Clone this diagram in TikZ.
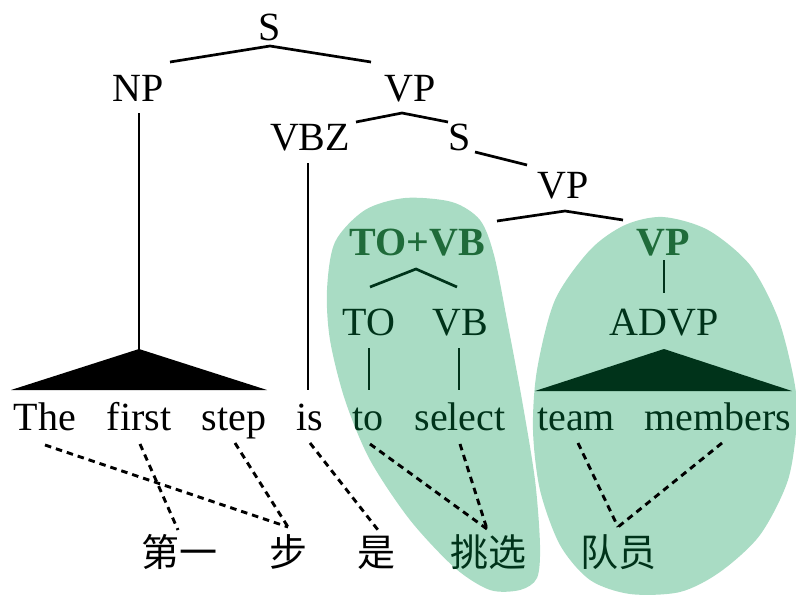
\documentclass[tikz,border=0pt]{standalone}
\usepackage{fontspec}
\setmainfont{Liberation Serif}
\newfontfamily\tnr{Liberation Serif}
\newfontfamily\cjk{Noto Sans CJK SC}
\definecolor{blobfill}{HTML}{A9DCC4}
\definecolor{labgreen}{HTML}{1F6B3A}
\definecolor{dkgreen}{HTML}{00331A}
\begin{document}
\begin{tikzpicture}[x=1pt,y=-1pt,
 lab/.style={anchor=base,inner sep=0pt,font=\tnr\fontsize{40}{48}\selectfont},
 glab/.style={lab,text=labgreen,font=\tnr\bfseries\fontsize{40}{48}\selectfont},
 inlab/.style={lab,text=dkgreen},
 zh/.style={anchor=base,inner sep=0pt,font=\cjk\fontsize{38}{44}\selectfont},
 tree/.style={line width=2.7pt},
 gtree/.style={line width=2.7pt,draw=dkgreen},
 alnline/.style={line width=2.9pt,dash pattern=on 6.5pt off 5pt},
 blob/.style={fill=blobfill,draw=none}]
\useasboundingbox (0,0) rectangle (796,595);
% blobs
\fill[blob] plot[smooth cycle] coordinates {(327,290) (335,242) (365,210) (405,198) (452,202) (480,220) (494,255) (507,320) (522,400) (535,480) (540,545) (537,578) (520,590) (490,590) (455,568) (410,520) (370,460) (345,400) (330,340)};
\fill[blob] plot[smooth cycle] coordinates {(663,217) (708,230) (750,265) (778,318) (794,380) (797,420) (788,480) (760,535) (720,572) (680,592) (630,594) (590,580) (560,545) (540,490) (533,430) (537,370) (555,300) (590,250) (625,225)};
% labels
\node[lab] (S) at (270,40) {S};
\node[lab] (NP) at (138,101) {NP};
\node[lab] (VP) at (410,101) {VP};
\node[lab] (VBZ) at (310,150) {VBZ};
\node[lab] (S2) at (460,150) {S};
\node[lab] (VP2) at (563,198) {VP};
\node[glab] (TOVB) at (417,255) {TO+VB};
\node[glab] (VP3) at (663,255) {VP};
\node[inlab] (TO) at (369,335) {TO};
\node[inlab] (VB) at (460,335) {VB};
\node[inlab] (ADVP) at (664,335) {ADVP};
% words
\node[lab] (w1) at (45,430) {The};
\node[lab] (w2) at (139,430) {first};
\node[lab] (w3) at (234,430) {step};
\node[lab] (w4) at (310,430) {is};
\node[inlab] (w5) at (368,430) {to};
\node[inlab] (w6) at (460,430) {select};
\node[inlab] (w7) at (576,430) {team};
\node[inlab] (w8) at (718,430) {members};
% chinese
\node[zh] (z1) at (179,566) {第一};
\node[zh] (z2) at (288,566) {步};
\node[zh] (z3) at (376,566) {是};
\node[zh,text=dkgreen] (z4) at (488,566) {挑选};
\node[zh,text=dkgreen] (z5) at (618,566) {队员};
% coordinates
\coordinate (Sb) at (270,46);
\coordinate (NPt) at (170,62);
\coordinate (VPt) at (371,62);
\coordinate (NPb) at (139,113);
\coordinate (NPapex) at (139,349);
\coordinate (NPl) at (11,390);
\coordinate (NPr) at (267,390);
\coordinate (VPb) at (402,113);
\coordinate (VBZt) at (356,122);
\coordinate (S2t) at (448,122);
\coordinate (VBZb) at (308,163);
\coordinate (isT) at (308,390);
\coordinate (S2b) at (475,152);
\coordinate (VP2t) at (527,165);
\coordinate (VP2b) at (565,211);
\coordinate (TOVBt) at (497,221);
\coordinate (VP3t) at (623,220);
\coordinate (TOVBb) at (416,269);
\coordinate (TOt) at (370,287);
\coordinate (VBt) at (457,287);
\coordinate (TOb) at (369,348);
\coordinate (tot) at (369,390);
\coordinate (VBb) at (459,348);
\coordinate (selt) at (459,390);
\coordinate (VP3b) at (664,260);
\coordinate (ADVPt) at (664,293);
\coordinate (ADapex) at (664,349);
\coordinate (ADl) at (535,391);
\coordinate (ADr) at (792,391);
% tree lines
\draw[tree] (NPt) -- (Sb) -- (VPt);
\draw[tree] (NPb) -- (NPapex);
\fill (NPapex) -- (NPr) -- (NPl) -- cycle;
\draw[tree] (VBZt) -- (VPb) -- (S2t);
\draw[tree] (VBZb) -- (isT);
\draw[tree] (S2b) -- (VP2t);
\draw[tree] (TOVBt) -- (VP2b) -- (VP3t);
\draw[gtree] (TOt) -- (TOVBb) -- (VBt);
\draw[gtree] (TOb) -- (tot);
\draw[gtree] (VBb) -- (selt);
\draw[gtree] (VP3b) -- (ADVPt);
\fill[dkgreen] (ADapex) -- (ADr) -- (ADl) -- cycle;
% alignment lines
\coordinate (a1) at (45,445);
\coordinate (a2) at (140,444);
\coordinate (a3) at (235,443);
\coordinate (a4) at (310,443);
\coordinate (a5) at (370,444);
\coordinate (a6) at (460,444);
\coordinate (a7) at (578,443);
\coordinate (a8) at (722,443);
\coordinate (b1) at (178,530);
\coordinate (b2) at (288,527);
\coordinate (b3) at (378,530);
\coordinate (b4) at (487,529);
\coordinate (b5) at (618,527);
\draw[alnline] (a1) -- (b2);
\draw[alnline] (a2) -- (b1);
\draw[alnline] (a3) -- (b2);
\draw[alnline] (a4) -- (b3);
\draw[alnline] (a5) -- (b4);
\draw[alnline] (a6) -- (b4);
\draw[alnline] (a7) -- (b5);
\draw[alnline] (a8) -- (b5);
\end{tikzpicture}
\end{document}
